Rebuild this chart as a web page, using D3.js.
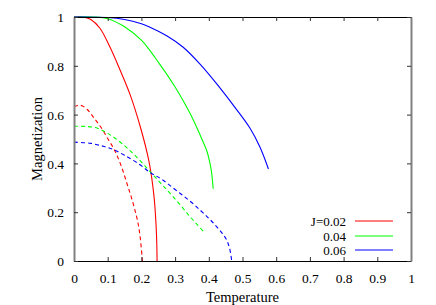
<!DOCTYPE html>
<html>
<head>
<meta charset="utf-8">
<script src="https://cdn.jsdelivr.net/npm/d3@7/dist/d3.min.js"></script>
<style>
  html, body { margin: 0; padding: 0; background: #fff; }
  svg { display: block; }
</style>
</head>
<body>
<svg id="chart" width="436" height="305"></svg>
<script>
// ---- data ----
const xTicks = [0, 0.1, 0.2, 0.3, 0.4, 0.5, 0.6, 0.7, 0.8, 0.9, 1];
const xTickLabels = ["0", "0.1", "0.2", "0.3", "0.4", "0.5", "0.6", "0.7", "0.8", "0.9", "1"];
const yTicks = [0, 0.2, 0.4, 0.6, 0.8, 1];
const yTickLabels = ["0", "0.2", "0.4", "0.6", "0.8", "1"];
const seriesNames = ["J=0.02", "0.04", "0.06"];
const seriesColors = ["#ff0000", "#00ff00", "#0000ff"];

// solid curves: [T, M]
const solidJ002 = [[0,1],[0.03,0.999],[0.05,0.99],[0.077,0.954],[0.107,0.876],[0.136,0.785],
  [0.167,0.68],[0.198,0.544],[0.2226,0.407],[0.237,0.27],[0.243,0.16],[0.2455,0.08],[0.2465,0]];
const solidJ004 = [[0,1],[0.06,1.0],[0.1,0.993],[0.15,0.96],[0.2,0.905],[0.2255,0.862],[0.25,0.815],
  [0.275,0.766],[0.3,0.713],[0.324,0.657],[0.345,0.603],[0.364,0.548],[0.38,0.498],[0.394,0.452],
  [0.402,0.41],[0.408,0.365],[0.413,0.296]];
const solidJ006 = [[0,1],[0.1,0.998],[0.15,0.99],[0.2,0.972],[0.2255,0.958],[0.275,0.923],[0.324,0.876],
  [0.374,0.807],[0.423,0.727],[0.473,0.638],[0.522,0.545],[0.552,0.466],[0.577,0.377]];

// dashed curves: [T, M]
const dashedJ002 = [[0,0.633],[0.02,0.638],[0.04,0.62],[0.06,0.585],[0.08,0.548],[0.1,0.502],[0.12,0.455],
  [0.14,0.39],[0.16,0.305],[0.17,0.262],[0.18,0.213],[0.19,0.155],[0.197,0.09],[0.203,0]];
const dashedJ004 = [[0,0.552],[0.04,0.551],[0.07,0.544],[0.1,0.523],[0.13,0.495],[0.16,0.46],[0.19,0.42],
  [0.22,0.375],[0.245,0.337],[0.27,0.30],[0.295,0.262],[0.32,0.222],[0.344,0.182],[0.365,0.15],[0.388,0.115]];
const dashedJ006 = [[0,0.487],[0.05,0.482],[0.09,0.469],[0.12,0.455],[0.15,0.433],[0.19,0.40],[0.227,0.362],
  [0.26,0.335],[0.3,0.293],[0.34,0.25],[0.374,0.209],[0.4,0.175],[0.423,0.141],[0.44,0.113],[0.453,0.086],
  [0.462,0.05],[0.468,0]];

const solidSeries = [solidJ002, solidJ004, solidJ006];
const dashedSeries = [dashedJ002, dashedJ004, dashedJ006];

// ---- layout ----
const FONT = "Liberation Serif";
const svg = d3.select("#chart");
const L = 74, R = 411, T = 17, B = 261;
const x = d3.scaleLinear().domain([0, 1]).range([L, R]);
const y = d3.scaleLinear().domain([0, 1]).range([B, T]);

const line = d3.line().x(d => x(d[0])).y(d => y(d[1])).curve(d3.curveCatmullRom.alpha(0.5));

// curves
const g = svg.append("g");
solidSeries.forEach((s, i) => {
  g.append("path").attr("d", line(s)).attr("fill", "none")
    .attr("stroke", seriesColors[i]).attr("stroke-width", 1.1);
});
dashedSeries.forEach((s, i) => {
  g.append("path").attr("d", line(s)).attr("fill", "none")
    .attr("stroke", seriesColors[i]).attr("stroke-width", 1.1)
    .attr("stroke-dasharray", "4,3");
});

// axes (ticks inward on all sides)
const tl = 4;
const axB = d3.axisBottom(x).tickValues(xTicks).tickFormat((d, i) => xTickLabels[i]).tickSizeInner(-tl).tickSizeOuter(0).tickPadding(12);
const axT = d3.axisTop(x).tickValues(xTicks).tickFormat("").tickSizeInner(-tl).tickSizeOuter(0);
const axL = d3.axisLeft(y).tickValues(yTicks).tickFormat((d, i) => yTickLabels[i]).tickSizeInner(-tl).tickSizeOuter(0).tickPadding(10);
const axR = d3.axisRight(y).tickValues(yTicks).tickFormat("").tickSizeInner(-tl).tickSizeOuter(0);

function style(sel, domainColor, domainWidth) {
  sel.attr("font-family", FONT).attr("font-size", 13);
  sel.selectAll("text").attr("font-family", FONT).attr("font-size", 13.5).attr("fill", "#000");
  sel.selectAll(".tick line").attr("stroke", "#333").attr("stroke-width", 1);
  sel.select(".domain").attr("stroke", domainColor).attr("stroke-width", domainWidth);
}
const gb = svg.append("g").attr("transform", `translate(0,${B})`).call(axB); style(gb, "#000", 1.2);
const gt = svg.append("g").attr("transform", `translate(0,${T})`).call(axT); style(gt, "#000", 1.2);
const gl = svg.append("g").attr("transform", `translate(${L},0)`).call(axL); style(gl, "#808080", 2);
const gr = svg.append("g").attr("transform", `translate(${R},0)`).call(axR); style(gr, "#808080", 2);
gb.selectAll(".tick text").attr("dy", "0.71em");
gl.selectAll(".tick text").attr("dy", "0.35em");

// axis titles
svg.append("text").attr("x", (L + R) / 2).attr("y", 302).attr("text-anchor", "middle")
  .attr("font-family", FONT).attr("font-size", 14.5).text("Temperature");
svg.append("text").attr("transform", `translate(42,${(T + B) / 2}) rotate(-90)`)
  .attr("text-anchor", "middle").attr("font-family", FONT).attr("font-size", 14.5).text("Magnetization");

// legend
const legY = [221, 236, 250];
seriesNames.forEach((n, i) => {
  svg.append("text").attr("x", 346).attr("y", legY[i]).attr("dy", "0.35em")
    .attr("text-anchor", "end").attr("font-family", FONT).attr("font-size", 13).text(n);
  svg.append("line").attr("x1", 355).attr("x2", 393).attr("y1", legY[i]).attr("y2", legY[i])
    .attr("stroke", seriesColors[i]).attr("stroke-width", 1.1);
});
</script>
</body>
</html>
